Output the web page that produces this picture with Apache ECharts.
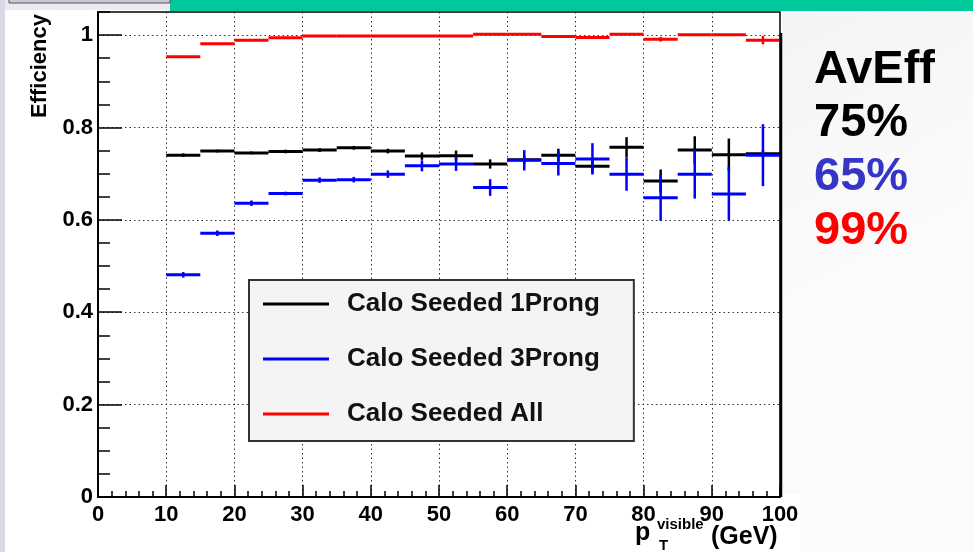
<!DOCTYPE html>
<html>
<head>
<meta charset="utf-8">
<title>Calo Seeded efficiency vs pT visible</title>
<script src="https://cdn.jsdelivr.net/npm/echarts@6/dist/echarts.min.js"></script>
<style>
  html, body { margin: 0; padding: 0; }
  #chart { width: 973px; height: 552px; }
</style>
</head>
<body>
<div id="chart"></div>
<script>
// bins in p_T visible (GeV)
const binLow  = [10, 15, 20, 25, 30, 35, 40, 45, 50, 55, 60, 65, 70, 75, 80, 85, 90, 95];
const binHigh = [15, 20, 25, 30, 35, 40, 45, 50, 55, 60, 65, 70, 75, 80, 85, 90, 95, 100];

// Calo Seeded 1Prong
const oneProng    = [0.740, 0.749, 0.745, 0.748, 0.751, 0.756, 0.749, 0.738, 0.739, 0.721, 0.730, 0.740, 0.716, 0.757, 0.684, 0.751, 0.741, 0.743];
const oneProngErr = [0.004, 0.003, 0.003, 0.004, 0.004, 0.004, 0.005, 0.008, 0.011, 0.010, 0.008, 0.014, 0.015, 0.022, 0.025, 0.030, 0.035, 0.008];

// Calo Seeded 3Prong
const threeProng    = [0.481, 0.571, 0.636, 0.657, 0.686, 0.687, 0.699, 0.717, 0.721, 0.670, 0.729, 0.722, 0.732, 0.699, 0.648, 0.699, 0.656, 0.740];
const threeProngErr = [0.006, 0.006, 0.006, 0.004, 0.006, 0.006, 0.008, 0.012, 0.015, 0.018, 0.022, 0.026, 0.034, 0.036, 0.050, 0.053, 0.058, 0.067];

// Calo Seeded All
const allSeeded    = [0.953, 0.981, 0.989, 0.994, 0.998, 0.998, 0.998, 0.998, 0.998, 1.002, 1.002, 0.997, 0.995, 1.002, 0.991, 1.001, 1.001, 0.989];
const allSeededErr = [0.002, 0.002, 0.002, 0.002, 0.001, 0.001, 0.001, 0.001, 0.002, 0.002, 0.002, 0.002, 0.003, 0.002, 0.005, 0.002, 0.002, 0.009];

const seriesNames = ['Calo Seeded 1Prong', 'Calo Seeded 3Prong', 'Calo Seeded All'];
const seriesColors = ['#000000', '#0000ff', '#ff0000'];

const avEffLabels = ['75%', '65%', '99%'];
const avEffColors = ['#000000', '#3535c8', '#ff0000'];

const xTicks = [0, 100, 10];      // min, max, step
const yTicks = [0, 1.05, 0.2];    // min, max, step

const toRows = (vals, errs) => vals.map((v, i) => [binLow[i], binHigh[i], v, errs[i]]);

// horizontal bin width line + vertical error bar
const errorBar = color => (params, api) => {
  const x0 = api.value(0), x1 = api.value(1), y = api.value(2), e = api.value(3);
  const a = api.coord([x0, y]);
  const b = api.coord([x1, y]);
  const xm = (x0 + x1) / 2;
  const lo = api.coord([xm, y - e]);
  const hi = api.coord([xm, y + e]);
  return {
    type: 'group',
    children: [
      { type: 'line', shape: { x1: a[0], y1: a[1], x2: b[0], y2: b[1] }, style: { stroke: color, lineWidth: 3 } },
      { type: 'line', shape: { x1: lo[0], y1: lo[1], x2: hi[0], y2: hi[1] }, style: { stroke: color, lineWidth: 2.5 } }
    ]
  };
};

const datasets = [toRows(oneProng, oneProngErr), toRows(threeProng, threeProngErr), toRows(allSeeded, allSeededErr)];

const chart = echarts.init(document.getElementById('chart'));

const labelFont = { color: '#000', fontFamily: 'Liberation Sans, Arial, sans-serif', fontWeight: 'bold', fontSize: 22 };
const dotted = { type: [1.5, 3], color: '#333', width: 1 };

const option = {
  animation: false,
  backgroundColor: 'transparent',
  grid: {
    left: 98, top: 12, right: 193, bottom: 55,
    show: true, borderColor: '#000', borderWidth: 1.5, backgroundColor: 'transparent'
  },
  xAxis: {
    type: 'value',
    min: xTicks[0], max: xTicks[1], interval: xTicks[2],
    axisLine: { lineStyle: { color: '#000', width: 2 } },
    axisTick: { inside: true, length: 12, lineStyle: { color: '#000', width: 1.5 } },
    minorTick: { show: true, splitNumber: 5, length: 6, lineStyle: { color: '#000', width: 1.5 } },
    splitLine: { show: true, showMinLine: false, showMaxLine: false, lineStyle: dotted },
    axisLabel: Object.assign({ margin: 7 }, labelFont)
  },
  yAxis: [
    {
      type: 'value',
      min: yTicks[0], max: yTicks[1], interval: yTicks[2],
      axisLine: { lineStyle: { color: '#000', width: 2 } },
      axisTick: { inside: true, length: 24, lineStyle: { color: '#000', width: 1.5 } },
      splitLine: { show: true, showMinLine: false, showMaxLine: false, lineStyle: dotted },
      axisLabel: Object.assign({
        margin: 5, showMaxLabel: false,
        formatter: v => (v > 1.01 ? '' : String(+v.toFixed(2)))
      }, labelFont)
    },
    {
      // minor ticks every 0.05
      type: 'value',
      position: 'left',
      min: yTicks[0], max: yTicks[1], interval: 0.05,
      axisLine: { show: false },
      axisTick: { inside: true, length: 12, lineStyle: { color: '#000', width: 1.5 } },
      axisLabel: { show: false },
      splitLine: { show: false }
    }
  ],
  legend: {
    left: 249, top: 280,
    orient: 'vertical',
    padding: [11, 34, 14, 14],
    itemGap: 29,
    itemWidth: 66, itemHeight: 3,
    backgroundColor: '#f4f4f4',
    borderColor: '#333', borderWidth: 2,
    selectedMode: false,
    textStyle: {
      color: '#111', fontFamily: 'Liberation Sans, Arial, sans-serif', fontWeight: 'bold',
      fontSize: 26, lineHeight: 26, padding: [0, 0, 0, 13]
    },
    data: seriesNames.map(n => ({ name: n, icon: 'rect' }))
  },
  graphic: [
    // slide background
    { type: 'rect', z: -20, shape: { x: 0, y: 0, width: 973, height: 552 },
      style: { fill: new echarts.graphic.LinearGradient(0, 0, 0.3, 1, [
        { offset: 0, color: '#e9e9ef' }, { offset: 1, color: '#fbfbfb' }]) } },
    { type: 'rect', z: -19, shape: { x: 0, y: 0, width: 5, height: 552 }, style: { fill: '#d9d9e6' } },
    // white canvas of the plot
    { type: 'rect', z: -18, shape: { x: 5, y: 10, width: 777, height: 542 }, style: { fill: '#ffffff' } },
    { type: 'rect', z: -18, shape: { x: 782, y: 494, width: 18, height: 58 }, style: { fill: '#ffffff' } },
    // header strips
    { type: 'rect', z: -17, shape: { x: 170, y: 0, width: 803, height: 11 }, style: { fill: '#00c89b' } },
    { type: 'rect', z: -17, shape: { x: 9, y: -3, width: 161, height: 6 }, style: { fill: '#c6cad2', stroke: '#555', lineWidth: 1 } },
    // thick right edge of the frame
    { type: 'line', z: 5, shape: { x1: 781, y1: 33, x2: 781, y2: 497 }, style: { stroke: '#000', lineWidth: 2.5 } },
    // axis titles
    { type: 'text', x: 40, y: 66, rotation: Math.PI / 2,
      style: { text: 'Efficiency', fill: '#000', font: 'bold 22px "Liberation Sans", Arial, sans-serif',
        align: 'center', verticalAlign: 'middle' } },
    { type: 'text', x: 635, y: 533,
      style: { text: 'p', fill: '#000', font: 'bold 25px "Liberation Sans", Arial, sans-serif', verticalAlign: 'middle' } },
    { type: 'text', x: 657, y: 525,
      style: { text: 'visible', fill: '#000', font: 'bold 15px "Liberation Sans", Arial, sans-serif', verticalAlign: 'middle' } },
    { type: 'text', x: 659, y: 546,
      style: { text: 'T', fill: '#000', font: 'bold 15px "Liberation Sans", Arial, sans-serif', verticalAlign: 'middle' } },
    { type: 'text', x: 711, y: 537,
      style: { text: '(GeV)', fill: '#000', font: 'bold 25px "Liberation Sans", Arial, sans-serif', verticalAlign: 'middle' } },
    // average efficiencies
    { type: 'text', x: 814, y: 70,
      style: { text: 'AvEff', fill: '#000', font: 'bold 47px "Liberation Sans", Arial, sans-serif', verticalAlign: 'middle' } }
  ].concat(avEffLabels.map((t, i) => ({
    type: 'text', x: 814, y: 123 + i * 54,
    style: { text: t, fill: avEffColors[i], font: 'bold 47px "Liberation Sans", Arial, sans-serif', verticalAlign: 'middle' }
  }))),
  series: seriesNames.map((name, i) => ({
    name: name,
    type: 'custom',
    clip: true,
    itemStyle: { color: seriesColors[i] },
    encode: { x: [0, 1], y: 2 },
    renderItem: errorBar(seriesColors[i]),
    data: datasets[i]
  }))
};

chart.setOption(option);
</script>
</body>
</html>
